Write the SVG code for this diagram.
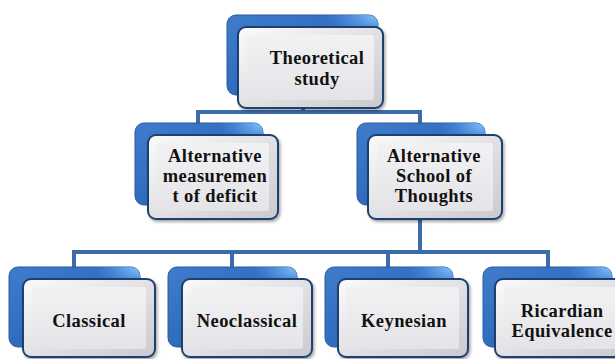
<svg xmlns="http://www.w3.org/2000/svg" width="615" height="359" viewBox="0 0 615 359">
<defs>
<linearGradient id="blueG" x1="0" y1="0" x2="1" y2="1">
<stop offset="0" stop-color="#3f7dcc"/>
<stop offset="0.5" stop-color="#306cbd"/>
<stop offset="1" stop-color="#2358a3"/>
</linearGradient>
<radialGradient id="hl" cx="1" cy="0" r="0.35">
<stop offset="0" stop-color="#8fd0ff" stop-opacity="0.9"/>
<stop offset="1" stop-color="#5aa0ff" stop-opacity="0"/>
</radialGradient>
<linearGradient id="faceG" x1="0" y1="0" x2="0" y2="1">
<stop offset="0" stop-color="#f2f2f4"/>
<stop offset="1" stop-color="#e4e4e8"/>
</linearGradient>
<linearGradient id="rimG" x1="0" y1="0" x2="1" y2="1">
<stop offset="0" stop-color="#fbfbfc"/>
<stop offset="1" stop-color="#c9c9cf"/>
</linearGradient>
<filter id="sh" x="-10%" y="-10%" width="130%" height="130%">
<feDropShadow dx="1.5" dy="2" stdDeviation="1.5" flood-color="#000" flood-opacity="0.35"/>
</filter>
</defs>
<style>
.back{fill:url(#blueG);stroke:#2a5a9c;stroke-width:1}
.hl{fill:url(#hl)}
.rim{fill:url(#rimG);stroke:#1d3f70;stroke-width:2;filter:url(#sh)}
.face{fill:url(#faceG)}
.conn{stroke:#3d6cad;stroke-width:4;fill:none}
text{font-family:"Liberation Serif","Times New Roman",serif;font-weight:bold;font-size:18.5px;letter-spacing:0.4px;fill:#111;text-anchor:middle}
.big{font-size:20px;letter-spacing:0.2px}
</style>
<g id="connectors">
<path class="conn" d="M303 100V112M198 112H420M198 110V125M420 110V140"/>
<path class="conn" d="M420 210V252M72 252H550M74 250V269M232 250V269M388 250V269M548 250V269"/>
</g>
<g id="n-theoretical">
<rect class="back" x="227" y="15" width="151" height="80" rx="9"/>
<rect class="hl" x="227" y="15" width="151" height="80" rx="9"/>
<rect class="rim" x="238" y="27" width="145" height="81" rx="8"/>
<rect class="face" x="247" y="35" width="127" height="65" rx="2"/>
<text x="317" y="64">Theoretical</text>
<text x="317" y="85">study</text>
</g>
<g id="n-measurement">
<rect class="back" x="135" y="123" width="128" height="82" rx="9"/>
<rect class="hl" x="135" y="123" width="128" height="82" rx="9"/>
<rect class="rim" x="148" y="135" width="130" height="84" rx="8"/>
<rect class="face" x="157" y="143" width="112" height="68" rx="2"/>
<text x="215" y="162">Alternative</text>
<text x="215" y="182">measuremen</text>
<text x="215" y="202">t of deficit</text>
</g>
<g id="n-school">
<rect class="back" x="357" y="123" width="128" height="82" rx="9"/>
<rect class="hl" x="357" y="123" width="128" height="82" rx="9"/>
<rect class="rim" x="368" y="135" width="134" height="84" rx="8"/>
<rect class="face" x="377" y="143" width="116" height="68" rx="2"/>
<text x="434" y="162">Alternative</text>
<text x="434" y="182">School of</text>
<text x="434" y="202">Thoughts</text>
</g>
<g id="n-classical">
<rect class="back" x="9" y="267" width="131" height="80" rx="9"/>
<rect class="hl" x="9" y="267" width="131" height="80" rx="9"/>
<rect class="rim" x="23" y="279" width="132" height="78" rx="8"/>
<rect class="face" x="32" y="287" width="114" height="62" rx="2"/>
<text x="89" y="327">Classical</text>
</g>
<g id="n-neoclassical">
<rect class="back" x="168" y="267" width="129" height="80" rx="9"/>
<rect class="hl" x="168" y="267" width="129" height="80" rx="9"/>
<rect class="rim" x="182" y="279" width="130" height="78" rx="8"/>
<rect class="face" x="191" y="287" width="112" height="62" rx="2"/>
<text x="247" y="327">Neoclassical</text>
</g>
<g id="n-keynesian">
<rect class="back" x="325" y="267" width="128" height="80" rx="9"/>
<rect class="hl" x="325" y="267" width="128" height="80" rx="9"/>
<rect class="rim" x="338" y="279" width="130" height="78" rx="8"/>
<rect class="face" x="347" y="287" width="112" height="62" rx="2"/>
<text x="404" y="327">Keynesian</text>
</g>
<g id="n-ricardian">
<rect class="back" x="483" y="267" width="129" height="80" rx="9"/>
<rect class="hl" x="483" y="267" width="129" height="80" rx="9"/>
<rect class="rim" x="495" y="279" width="132" height="78" rx="8"/>
<rect class="face" x="504" y="287" width="114" height="62" rx="2"/>
<text x="562" y="317">Ricardian</text>
<text x="562" y="337">Equivalence</text>
</g>
</svg>
